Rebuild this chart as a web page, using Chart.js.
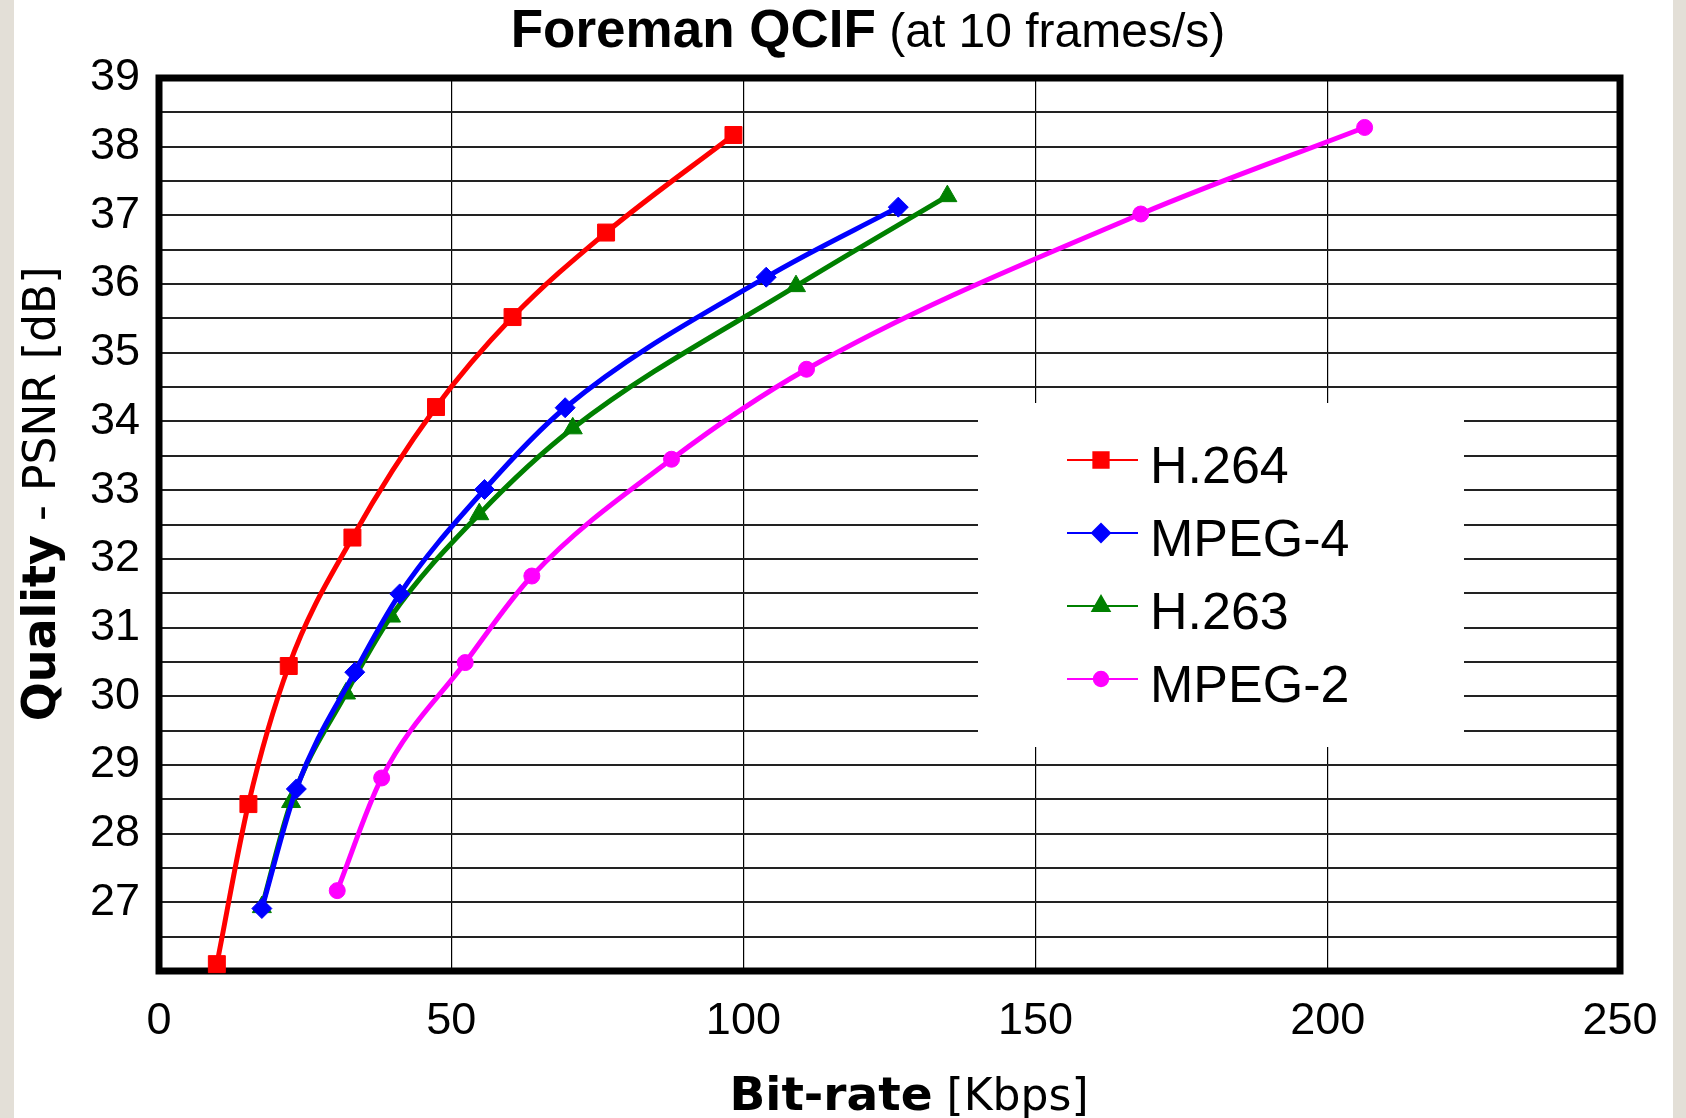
<!DOCTYPE html>
<html>
<head>
<meta charset="utf-8">
<title>Foreman QCIF</title>
<script src="https://cdn.jsdelivr.net/npm/chart.js@4.4.1/dist/chart.umd.min.js"></script>
<style>
  html, body { margin: 0; padding: 0; }
  body {
    width: 1686px; height: 1118px; overflow: hidden;
    background: linear-gradient(to right, #e3dfd7 0, #e3dfd7 14px, #fff 14px, #fff 1673px, #e3dfd7 1673px);
  }
  #wrap { position: absolute; left: 0; top: 0; width: 1686px; height: 1118px; }
</style>
</head>
<body>
<div id="wrap"><canvas id="psnrChart"></canvas></div>
<script>
// values (bit-rate in Kbps, PSNR in dB)
const seriesNames = ['H.264', 'MPEG-4', 'H.263', 'MPEG-2'];

const h264Rate  = [9.9, 15.3, 22.2, 33.1, 47.4, 60.5, 76.5, 98.3];
const h264Psnr  = [26.1, 28.43, 30.44, 32.31, 34.21, 35.52, 36.75, 38.17];

const mpeg4Rate = [17.6, 23.5, 33.5, 41.2, 55.7, 69.5, 103.9, 126.5];
const mpeg4Psnr = [26.91, 28.65, 30.35, 31.49, 33.01, 34.2, 36.1, 37.12];

const h263Rate  = [17.6, 22.6, 32.0, 39.7, 54.8, 70.8, 109.0, 134.9];
const h263Psnr  = [26.93, 28.46, 30.04, 31.16, 32.65, 33.9, 35.97, 37.28];

const mpeg2Rate = [30.5, 38.1, 52.4, 63.8, 87.7, 110.8, 168.0, 206.3];
const mpeg2Psnr = [27.17, 28.81, 30.49, 31.75, 33.45, 34.76, 37.02, 38.28];

const xTicks = [0, 50, 100, 150, 200, 250];
const yMin = 26, yMax = 39;

const colors = ['#ff0000', '#0000ff', '#008000', '#ff00ff'];
const markers = ['rect', 'rectRot', 'triangle', 'circle'];
const markerSize = [12, 10, 11, 8];

function pts(xs, ys) {
  return xs.map((x, i) => ({ x: x, y: ys[i] }));
}

const allRates = [h264Rate, mpeg4Rate, h263Rate, mpeg2Rate];
const allPsnr = [h264Psnr, mpeg4Psnr, h263Psnr, mpeg2Psnr];

const datasets = seriesNames.map((name, i) => ({
  label: name,
  data: pts(allRates[i], allPsnr[i]),
  borderColor: colors[i],
  backgroundColor: colors[i],
  borderWidth: 5,
  pointStyle: markers[i],
  pointRadius: markerSize[i],
  pointBorderWidth: 1,
  pointBackgroundColor: colors[i],
  pointBorderColor: colors[i],
  cubicInterpolationMode: 'monotone',
  clip: false
}));

function mixedText(ctx, parts, cx, y) {
  let total = 0;
  parts.forEach(p => { ctx.font = p.font; total += ctx.measureText(p.text).width; });
  let x = cx - total / 2;
  parts.forEach(p => {
    ctx.font = p.font;
    ctx.fillText(p.text, x, y);
    x += ctx.measureText(p.text).width;
  });
}

const decor = {
  id: 'decor',
  beforeDatasetsDraw(chart) {
    const ctx = chart.ctx, a = chart.chartArea;
    ctx.save();
    // legend background hides the grid
    ctx.fillStyle = '#fff';
    ctx.fillRect(978, 403, 486, 344);
    ctx.lineWidth = 7;
    ctx.strokeStyle = '#000';
    ctx.strokeRect(a.left, a.top, a.right - a.left, a.bottom - a.top);
    ctx.restore();
  },
  afterDraw(chart) {
    const ctx = chart.ctx;
    ctx.save();
    ctx.fillStyle = '#000';
    ctx.textBaseline = 'alphabetic';
    ctx.textAlign = 'left';

    // legend
    chart.data.datasets.forEach((ds, i) => {
      const y = 460 + i * 73;
      ctx.strokeStyle = ds.borderColor;
      ctx.lineWidth = 2;
      ctx.beginPath();
      ctx.moveTo(1067, y);
      ctx.lineTo(1138, y);
      ctx.stroke();
      ctx.fillStyle = ds.borderColor;
      Chart.helpers.drawPoint(ctx, { pointStyle: ds.pointStyle, radius: ds.pointRadius * 0.9, rotation: 0, borderWidth: 1 }, 1101, y);
      ctx.fillStyle = '#000';
      ctx.font = '52px "Liberation Sans", Arial, sans-serif';
      ctx.fillText(ds.label, 1150, y + 23);
    });

    // title
    mixedText(ctx, [
      { text: 'Foreman QCIF', font: 'bold 53px "Liberation Sans", Arial, sans-serif' },
      { text: ' (at 10 frames/s)', font: '48px "Liberation Sans", Arial, sans-serif' }
    ], 868, 47);

    // x axis title
    mixedText(ctx, [
      { text: 'Bit-rate', font: 'bold 47px "DejaVu Sans", sans-serif' },
      { text: ' [Kbps]', font: '44px "DejaVu Sans", sans-serif' }
    ], 909, 1110);

    // y axis title
    ctx.translate(55, 494);
    ctx.rotate(-Math.PI / 2);
    mixedText(ctx, [
      { text: 'Quality', font: 'bold 46px "DejaVu Sans", sans-serif' },
      { text: ' - PSNR [dB]', font: '44px "DejaVu Sans", sans-serif' }
    ], 0, 0);
    ctx.restore();
  }
};

const tickFont = { family: '"Liberation Sans", Arial, sans-serif', size: 45 };

new Chart(document.getElementById('psnrChart'), {
  type: 'line',
  data: { datasets: datasets },
  options: {
    responsive: true,
    maintainAspectRatio: false,
    animation: false,
    layout: { padding: { left: 0, right: 66, top: 78, bottom: 0 } },
    plugins: {
      legend: { display: false },
      title: { display: false },
      tooltip: { enabled: false }
    },
    scales: {
      x: {
        type: 'linear',
        min: xTicks[0],
        max: xTicks[xTicks.length - 1],
        afterBuildTicks(scale) { scale.ticks = xTicks.map(v => ({ value: v })); },
        afterFit(scale) { scale.height = 147; },
        grid: { color: '#000', lineWidth: 1.2, drawTicks: false },
        border: { display: false },
        ticks: { color: '#000', font: tickFont, padding: 24, maxRotation: 0, autoSkip: false }
      },
      y: {
        type: 'linear',
        min: yMin,
        max: yMax,
        afterFit(scale) { scale.width = 159; },
        grid: { color: '#222', lineWidth: 2, drawTicks: false },
        border: { display: false },
        ticks: {
          stepSize: 0.5,
          autoSkip: false,
          color: '#000',
          font: tickFont,
          padding: 19,
          callback: v => (Number.isInteger(v) && v > yMin) ? v : ''
        }
      }
    }
  },
  plugins: [decor]
});
</script>
</body>
</html>
